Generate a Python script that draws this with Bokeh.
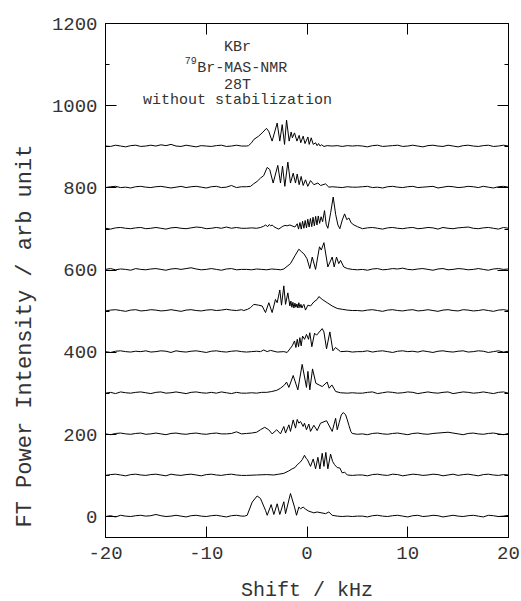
import numpy as np
from bokeh.plotting import figure
from bokeh.models import FixedTicker, LinearAxis, Label, Title, CustomJSTickFormatter
from bokeh.embed import file_html
from bokeh.resources import INLINE

FONT = "Liberation Mono"

# ---------------- data ----------------
X_TICKS = [-20, -10, 0, 10, 20]
Y_TICKS = [0, 200, 400, 600, 800, 1000, 1200]
Y_MINOR = [100, 300, 500, 700, 900, 1100]
OFFSETS = [0, 100, 200, 300, 400, 500, 600, 700, 800, 900]

BASE_LEFT_KHZ = [-20.0, -19.5, -19.0, -18.5, -18.0, -17.5, -17.0, -16.5, -16.0, -15.5,
                 -15.0, -14.5, -14.0, -13.5, -13.0, -12.5, -12.0, -11.5, -11.0, -10.5,
                 -10.0, -9.5, -9.0, -8.5, -8.0, -7.5, -7.0, -6.5]
BASE_RIGHT_KHZ = [5.5, 6.0, 6.5, 7.0, 7.5, 8.0, 8.5, 9.0, 9.5, 10.0,
                  10.5, 11.0, 11.5, 12.0, 12.5, 13.0, 13.5, 14.0, 14.5, 15.0,
                  15.5, 16.0, 16.5, 17.0, 17.5, 18.0, 18.5, 19.0, 19.5, 20.0]

# spectrum 0 (offset 0)
S0_LEFT = [1, 3, 0, 4, 2, 1, 3, 4, 2, 3, 6, 3, 1, 2, 4, 2, 0, 3, 4, 2, 1, 3, 4, 2, 0, 3, 4, 2]
S0_X = [-6.2, -5.94, -5.44, -4.95, -4.62, -4.12, -3.95, -3.56, -3.29, -2.96, -2.7, -2.3, -2.13,
        -1.64, -1.24, -1.04, -0.81, -0.64, -0.38, -0.15, 0.18, 0.68, 1.01, 1.84, 2.17, 2.5,
        3.0, 3.5, 4.0, 4.5, 5.0]
S0_Y = [2, 4, 36, 51, 45, 16, 4, 30, 6, 32, 6, 37, 8, 57, 24, 4, 24, 20, 24, 19, 14, 10, 12,
        8, 12, 4, 2, 1, 2, 1, 2]
S0_RIGHT = [2, 0, 3, 4, 2, 1, 3, 4, 2, 0, 3, 4, 1, 2, 4, 3, 0, 2, 4, 2, 1, 3, 4, 2, 0, 4, 3, 1, 2, 4]

# spectrum 1 (offset 100)
S1_LEFT = [1, 3, 4, 2, 0, 3, 4, 2, 1, 3, 4, 2, 0, 4, 2, 1, 3, 4, 2, 0, 3, 4, 2, 1, 3, 4, 2, 1]
S1_X = [-6.0, -5.0, -4.0, -3.3, -2.8, -2.3, -1.8, -1.47, -1.2, -0.97, -0.72, -0.48, -0.25,
        -0.1, 0.05, 0.35, 0.62, 0.85, 1.08, 1.28, 1.51, 1.68, 1.87, 2.07, 2.34, 2.54, 2.74,
        3.0, 3.26, 3.5, 3.73, 4.0, 4.5, 5.0]
S1_Y = [1, 2, 3, 2, 4, 6, 12, 17, 20, 27, 32, 39, 50, 43, 39, 23, 41, 17, 45, 17, 55, 23,
        57, 17, 53, 35, 27, 20, 19, 7, 9, 2, 1, 2]
S1_RIGHT = [2, 0, 3, 4, 2, 1, 4, 3, 0, 2, 4, 3, 1, 2, 4, 3, 0, 2, 4, 1, 3, 4, 2, 0, 3, 4, 2, 1, 3, 2]

# spectrum 2 (offset 200)
S2_LEFT = [2, 0, 3, 4, 2, 1, 3, 4, 1, 2, 4, 2, 0, 3, 4, 2, 1, 3, 4, 2, 1, 3, 4, 2, 2, 3, 7, 2]
S2_X = [-6.0, -5.5, -5.0, -4.62, -4.2, -3.8, -3.46, -3.0, -2.63, -2.3, -2.13, -1.8, -1.64,
        -1.37, -1.14, -0.97, -0.81, -0.64, -0.38, -0.25, -0.05, 0.18, 0.35, 0.68, 1.01, 1.34,
        1.94, 2.5, 2.84, 3.0, 3.2, 3.4, 3.6, 3.84, 4.0, 4.17, 4.35, 4.49, 5.0]
S2_Y = [3, 4, 6, 12, 18, 12, 2, 12, 2, 20, 4, 24, 8, 36, 16, 37, 28, 32, 20, 28, 12, 26, 8,
        23, 10, 28, 34, 8, 40, 12, 30, 48, 54, 48, 36, 22, 8, 3, 1]
S2_RIGHT = [2, 0, 3, 4, 2, 1, 3, 4, 2, 0, 3, 4, 2, 1, 3, 4, 5, 6, 4, 2, 0, 3, 4, 2, 1, 3, 4, 2, 0, 3]

# spectrum 3 (offset 300)
S3_LEFT = [1, 3, 0, 4, 2, 1, 3, 4, 2, 0, 3, 4, 1, 2, 4, 2, 0, 3, 4, 2, 1, 3, 1, 4, 2, 0, 3, 1]
S3_X = [-6.0, -5.5, -5.0, -4.5, -4.0, -3.5, -3.0, -2.63, -2.23, -2.03, -1.8, -1.37, -0.91,
        -0.48, -0.05, 0.09, 0.28, 0.55, 0.88, 1.2, 1.51, 2.0, 2.2, 2.47, 2.85, 3.33, 4.0,
        4.5, 5.0]
S3_Y = [1, 2, 1, 3, 3, 5, 8, 13, 21, 28, 15, 44, 9, 71, 15, 54, 9, 60, 25, 21, 17, 28, 13,
        21, 5, 2, 1, 2, 1]
S3_RIGHT = [1, 3, 4, 0, 2, 4, 3, 1, 2, 4, 3, 0, 2, 4, 2, 1, 3, 4, 0, 2, 4, 3, 1, 2, 4, 2, 0, 3, 4, 1]

# spectrum 4 (offset 400)
S4_LEFT = [2, 0, 3, 4, 2, 1, 3, 2, 4, 1, 2, 4, 3, 0, 4, 2, 1, 3, 4, 2, 0, 3, 4, 2, 1, 3, 4, 2]
S4_X = [-6.0, -5.5, -5.0, -4.62, -4.3, -3.95, -3.62, -2.96, -2.3, -1.97, -1.47, -1.24, -1.1,
        -0.97, -0.84, -0.71, -0.58, -0.44, -0.24, -0.05, 0.15, 0.28, 0.48, 0.75, 0.95, 1.51,
        1.68, 1.94, 2.27, 2.57, 2.83, 3.33, 4.0, 4.5, 5.0]
S4_Y = [1, 2, 3, 2, 6, 2, 5, 1, 2, 0, 16, 28, 12, 32, 14, 36, 16, 40, 32, 44, 32, 48, 14,
        47, 42, 58, 50, 9, 50, 4, 12, 2, 3, 1, 2]
S4_RIGHT = [2, 4, 1, 3, 4, 2, 0, 3, 4, 2, 3, 1, 4, 2, 0, 3, 4, 2, 1, 3, 4, 1, 2, 4, 3, 0, 2, 4, 1, 3]

# spectrum 5 (offset 500)
S5_LEFT = [1, 3, 4, 2, 0, 3, 4, 1, 2, 4, 3, 1, 2, 4, 2, 0, 3, 4, 2, 1, 3, 4, 2, 3, 5, 3, 2, 4]
S5_X = [-6.27, -5.9, -5.6, -5.28, -4.8, -4.45, -4.12, -3.79, -3.46, -3.13, -2.96, -2.7,
        -2.53, -2.3, -2.13, -1.9, -1.7, -1.6, -1.5, -1.4, -1.3, -1.2, -1.1, -1.0, -0.9,
        -0.81, -0.7, -0.6, -0.5, -0.4, -0.31, -0.15, 0.09, 0.35, 0.68, 1.01, 1.18, 1.51,
        2.0, 2.5, 3.0, 3.5, 4.0, 4.5, 5.0]
S5_Y = [2, 5, 9, 17, 15, 13, -3, 21, -3, 29, 21, 52, 15, 62, 17, 45, 13, 25, 10, 22, 8, 20,
        10, 18, 8, 21, 9, 17, 8, 14, 17, 3, 15, 13, 23, 29, 36, 29, 21, 13, 7, 5, 3, 2, 2]
S5_RIGHT = [1, 3, 4, 2, 0, 3, 4, 2, 1, 3, 4, 1, 2, 4, 2, 0, 3, 4, 2, 1, 4, 3, 1, 2, 4, 2, 0, 3, 4, 2]

# spectrum 6 (offset 600)
S6_LEFT = [2, 4, 1, 3, 2, 0, 4, 2, 1, 3, 4, 2, 0, 3, 4, 2, 4, 6, 3, 1, 2, 4, 2, 0, 3, 4, 1, 2]
S6_X = [-6.0, -5.5, -5.0, -4.5, -4.0, -3.5, -3.0, -2.6, -2.3, -1.64, -1.2, -0.81, -0.55,
        -0.31, 0.0, 0.28, 0.52, 0.85, 1.24, 1.42, 1.68, 2.07, 2.5, 2.7, 2.93, 3.15, 3.33,
        3.65, 4.0, 4.5, 5.0]
S6_Y = [2, 1, 3, 2, 1, 3, 2, 1, 3, 16, 35, 51, 45, 40, 28, 4, 32, 2, 57, 49, 67, 8, 32, 8,
        32, 16, 24, 8, 4, 2, 1]
S6_RIGHT = [2, 0, 3, 4, 1, 2, 4, 3, 5, 2, 1, 3, 4, 2, 0, 3, 4, 1, 2, 4, 3, 1, 2, 4, 2, 0, 3, 4, 2, 3]

# spectrum 7 (offset 700)
S7_LEFT = [2, 0, 3, 4, 2, 1, 3, 4, 1, 2, 4, 2, 0, 3, 4, 2, 1, 3, 5, 4, 1, 2, 4, 2, 5, 2, 4, 2]
S7_X = [-6.0, -5.5, -5.0, -4.6, -4.3, -4.1, -3.9, -3.75, -3.6, -3.45, -3.3, -3.0, -2.8,
        -2.46, -2.2, -1.97, -1.7, -1.4, -1.2, -0.97, -0.84, -0.7, -0.57, -0.44, -0.31,
        -0.18, -0.05, 0.08, 0.21, 0.34, 0.47, 0.6, 0.73, 0.86, 0.99, 1.12, 1.25, 1.4, 1.55,
        1.74, 1.9, 2.07, 2.35, 2.6, 2.85, 3.07, 3.26, 3.5, 3.73, 3.95, 4.16, 4.39, 4.66, 5.0]
S7_Y = [2, 3, 2, 4, 7, 10, 6, 11, 8, 10, 6, 2, 0, 6, 9, 8, 10, 7, 5, 13, 0, 16, 0, 19, 2,
        21, 3, 24, 5, 26, 6, 29, 8, 31, 10, 32, 14, 30, 18, 45, 12, 2, 40, 78, 35, 10, 1,
        22, 37, 23, 27, 15, 10, 6]
S7_RIGHT = [1, 3, 4, 2, 0, 3, 4, 2, 1, 3, 4, 1, 2, 4, 3, 0, 4, 2, 1, 3, 4, 5, 2, 1, 3, 4, 2, 0, 4, 2]

# spectrum 8 (offset 800)
S8_LEFT = [1, 3, 4, 1, 2, 0, 3, 4, 2, 1, 3, 4, 2, 0, 2, 4, 1, 3, 4, 2, 0, 3, 4, 1, 2, 6, 1, 3]
S8_X = [-6.0, -5.6, -5.3, -4.95, -4.62, -4.3, -3.95, -3.7, -3.36, -2.9, -2.63, -2.43, -2.2,
        -1.9, -1.64, -1.37, -1.14, -0.97, -0.78, -0.58, -0.38, -0.15, 0.08, 0.35, 0.68,
        1.08, 1.35, 1.84, 2.17, 2.5, 3.0, 3.5, 4.0, 4.5, 5.0]
S8_Y = [3, 4, 10, 16, 24, 30, 50, 45, 12, 55, 12, 53, 4, 63, 12, 36, 12, 34, 8, 28, 6, 20,
        4, 18, 8, 12, 6, 10, 2, 3, 2, 1, 3, 2, 2]
S8_RIGHT = [3, 4, 1, 2, 0, 3, 4, 2, 1, 3, 4, 1, 2, 3, 4, 0, 2, 4, 3, 1, 2, 4, 3, 1, 4, 2, 0, 3, 4, 2]

# spectrum 9 (offset 900)
S9_LEFT = [2, 1, 4, 2, 0, 3, 4, 1, 2, 4, 2, 5, 3, 6, 2, 1, 4, 2, 0, 3, 2, 1, 3, 4, 1, 2, 4, 2]
S9_X = [-6.0, -5.8, -5.5, -5.28, -4.8, -4.45, -4.02, -3.8, -3.46, -2.96, -2.7, -2.46, -2.23,
        -2.03, -1.77, -1.57, -1.45, -1.24, -1.0, -0.78, -0.62, -0.38, -0.2, 0.09, 0.22,
        0.42, 0.62, 0.85, 1.0, 1.15, 1.3, 1.45, 1.68, 2.0, 2.5, 3.0, 3.5, 4.0, 4.5, 5.0]
S9_Y = [2, 3, 10, 18, 26, 34, 45, 38, 14, 58, 14, 54, 6, 65, 14, 36, 22, 34, 14, 28, 10, 26,
        8, 24, 6, 22, 6, 10, 3, 8, 2, 5, 1, 3, 2, 3, 1, 3, 2, 3]
S9_RIGHT = [2, 0, 3, 4, 1, 2, 3, 4, 1, 2, 4, 2, 0, 3, 4, 2, 1, 4, 2, 0, 3, 4, 2, 1, 3, 4, 1, 2, 4, 2]

SPECTRA = [
    (S0_LEFT, S0_X, S0_Y, S0_RIGHT),
    (S1_LEFT, S1_X, S1_Y, S1_RIGHT),
    (S2_LEFT, S2_X, S2_Y, S2_RIGHT),
    (S3_LEFT, S3_X, S3_Y, S3_RIGHT),
    (S4_LEFT, S4_X, S4_Y, S4_RIGHT),
    (S5_LEFT, S5_X, S5_Y, S5_RIGHT),
    (S6_LEFT, S6_X, S6_Y, S6_RIGHT),
    (S7_LEFT, S7_X, S7_Y, S7_RIGHT),
    (S8_LEFT, S8_X, S8_Y, S8_RIGHT),
    (S9_LEFT, S9_X, S9_Y, S9_RIGHT),
]

# ---------------- figure ----------------
p = figure(frame_width=403, frame_height=514, x_range=(-20, 20), y_range=(-50, 1200),
           output_backend="svg", toolbar_location=None,
           min_border_left=105, min_border_right=13, min_border_top=23, min_border_bottom=64,
           background_fill_color="white", border_fill_color="white")
p.outline_line_color = "black"
p.outline_line_width = 1
p.grid.visible = False

xt = FixedTicker(ticks=X_TICKS)
yt = FixedTicker(ticks=Y_TICKS, minor_ticks=Y_MINOR)
fmt = CustomJSTickFormatter(code="return tick.toFixed(0);")


def style_axis(ax, show_labels):
    ax.axis_line_color = "black"
    ax.axis_line_width = 1
    ax.major_tick_line_color = "black"
    ax.major_tick_in = 11
    ax.major_tick_out = 0
    ax.minor_tick_line_color = "black"
    ax.minor_tick_in = 4
    ax.minor_tick_out = 0
    ax.major_label_text_font = FONT
    ax.major_label_text_color = "#333333"
    ax.formatter = fmt
    if show_labels:
        ax.major_label_text_font_size = "19px"
        ax.major_label_standoff = 8
    else:
        ax.major_label_text_font_size = "0px"
        ax.major_label_standoff = 0


bottom = p.below[0]
left = p.left[0]
bottom.ticker = xt
left.ticker = yt
style_axis(bottom, True)
style_axis(left, True)
bottom.major_label_standoff = 9

top = LinearAxis(ticker=xt)
right = LinearAxis(ticker=yt)
style_axis(top, False)
style_axis(right, False)
p.add_layout(top, "above")
p.add_layout(right, "right")

bottom.axis_label = "Shift / kHz"
bottom.axis_label_text_font = FONT
bottom.axis_label_text_font_size = "20px"
bottom.axis_label_text_font_style = "normal"
bottom.axis_label_text_color = "#333333"
bottom.axis_label_standoff = 17

# y title as a side title, starting near the bottom of the frame
ytitle = Title(text="FT Power Intensity / arb unit", align="left", offset=10,
               text_font=FONT, text_font_size="22px", text_font_style="normal",
               text_color="#333333")
if "standoff" in ytitle.properties():
    ytitle.standoff = 21
p.add_layout(ytitle, "left")

for off, (lft, px, py, rgt) in zip(OFFSETS, SPECTRA):
    assert len(lft) == len(BASE_LEFT_KHZ) and len(rgt) == len(BASE_RIGHT_KHZ)
    assert len(px) == len(py)
    xs = np.array(BASE_LEFT_KHZ + px + BASE_RIGHT_KHZ, dtype=float)
    ys = np.array(lft + py + rgt, dtype=float) + off
    p.line(xs, ys, line_color="black", line_width=1)

# annotation block
ann_kw = dict(text_font=FONT, text_color="#333333", text_baseline="alphabetic")
p.add_layout(Label(x=-6.9, y=1141, text="KBr", text_align="center",
                   text_font_size="15px", **ann_kw))
p.add_layout(Label(x=-10.95, y=1110, text="79", text_align="right",
                   text_font_size="10px", **ann_kw))
p.add_layout(Label(x=-10.9, y=1090, text="Br-MAS-NMR", text_align="left",
                   text_font_size="15px", **ann_kw))
p.add_layout(Label(x=-6.9, y=1049, text="28T", text_align="center",
                   text_font_size="15px", **ann_kw))
p.add_layout(Label(x=-6.9, y=1012, text="without stabilization", text_align="center",
                   text_font_size="15px", **ann_kw))

open("out.html", "w").write(file_html(p, INLINE))
